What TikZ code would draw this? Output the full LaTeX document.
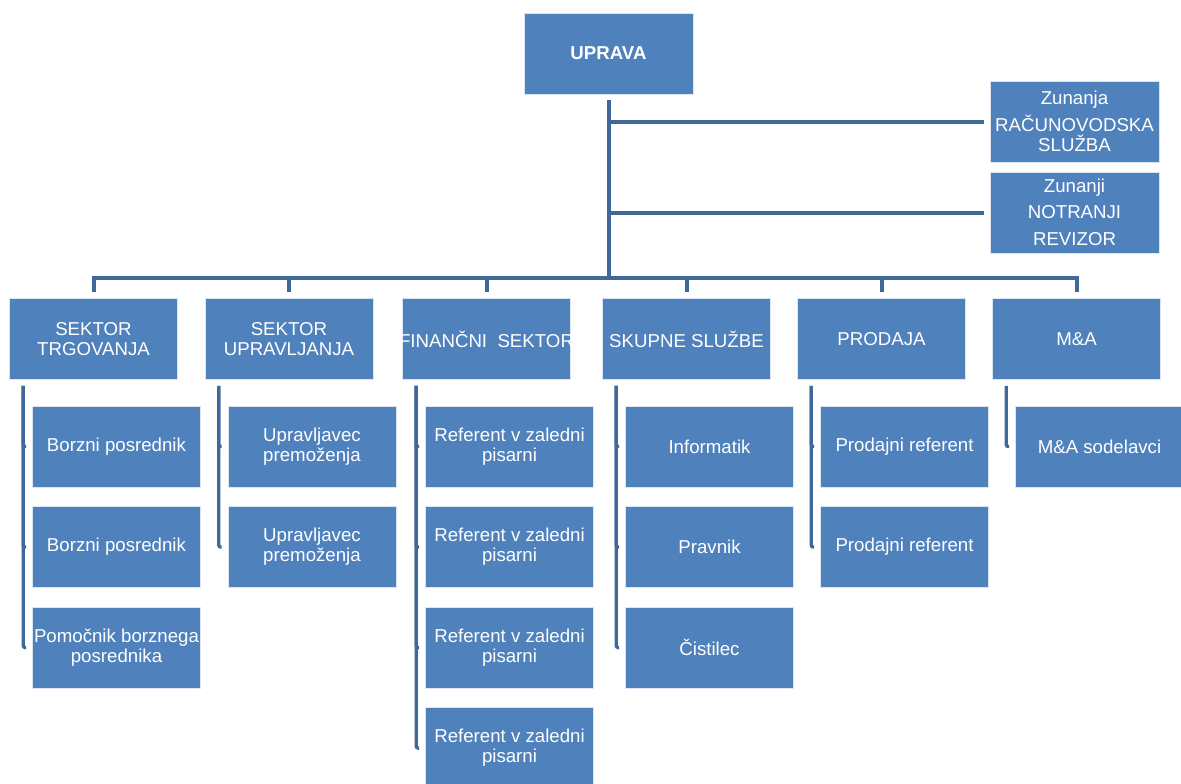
\documentclass[tikz,border=0pt]{standalone}
\usepackage{fontspec}
\setmainfont{Liberation Sans}
\usetikzlibrary{positioning}
\definecolor{modra}{RGB}{79,129,189}
\definecolor{temnomodra}{RGB}{64,104,152}
\def\razmak{4.5pt}

\begin{document}
\begin{tikzpicture}[x = 0.75pt, y = -0.75pt,
    skatla/.style = {fill = modra, draw = white!80!modra, line width = 0.4pt, text = white,
        minimum width = 126pt, minimum height = 60.75pt, inner sep = 0pt, align = center,
        font = \fontsize{14}{15}\selectfont},
    clan/.style = {skatla, below right = 19.5pt and 17.25pt of #1.south west},
    nizje/.style = {skatla, below = 14.25pt of #1},
    deblo/.style = {draw = temnomodra, line width = 3pt},
    veja/.style = {draw = temnomodra, line width = 2.5pt, rounded corners = 1.5pt}]
    \useasboundingbox (0,0) rectangle (1181,783);
    % Uprava in zunanje sluzbe
    \node[skatla, minimum width = 126.75pt, font = \fontsize{14}{15}\selectfont\bfseries] (uprava) at (608.5,53.5) {UPRAVA};
    \node[skatla, minimum width = 126.75pt] (racun) at (1074.5,121.5) {Zunanja\\[3.75pt]RAČUNOVODSKA\\SLUŽBA};
    \node[skatla, minimum width = 126.75pt] (revizor) at (1074.5,212.5) {Zunanji\\[4.5pt]NOTRANJI\\[5.25pt]REVIZOR};
    \coordinate (vodilo) at (608.5,278);
    % Sektorji
    \node[skatla] (trg) at (93.5,339) {SEKTOR\\TRGOVANJA};
    \node[skatla] (upr) at (289,339) {SEKTOR\\UPRAVLJANJA};
    \node[skatla] (fin) at (486.5,339) {\makebox[126pt]{FINANČNI~~SEKTOR}};
    \node[skatla] (skp) at (686.5,339) {SKUPNE SLUŽBE};
    \node[skatla] (prd) at (881.5,339) {PRODAJA};
    \node[skatla] (ma) at (1076.5,339) {M\&A};
    % Zaposleni
    \node[clan = trg] (trg1) {Borzni posrednik};
    \node[nizje = trg1] (trg2) {Borzni posrednik};
    \node[nizje = trg2] (trg3) {Pomočnik borznega\\posrednika};
    \node[clan = upr] (upr1) {Upravljavec\\premoženja};
    \node[nizje = upr1] (upr2) {Upravljavec\\premoženja};
    \node[clan = fin] (fin1) {Referent v zaledni\\pisarni};
    \node[nizje = fin1] (fin2) {Referent v zaledni\\pisarni};
    \node[nizje = fin2] (fin3) {Referent v zaledni\\pisarni};
    \node[nizje = fin3] (fin4) {Referent v zaledni\\pisarni};
    \node[clan = skp] (skp1) {Informatik};
    \node[nizje = skp1] (skp2) {Pravnik};
    \node[nizje = skp2] (skp3) {Čistilec};
    \node[clan = prd] (prd1) {Prodajni referent};
    \node[nizje = prd1] (prd2) {Prodajni referent};
    \node[clan = ma] (ma1) {M\&A sodelavci};
    % Povezave
    \draw[deblo] ([yshift=-\razmak]uprava.south) -- (vodilo);
    \draw[deblo] (uprava.south |- racun.west) -- ([xshift=-\razmak]racun.west);
    \draw[deblo] (uprava.south |- revizor.west) -- ([xshift=-\razmak]revizor.west);
    \foreach \s in {trg, upr, fin, skp, prd, ma}
        \draw[deblo] (vodilo) -| ([yshift=\razmak]\s.north);
    \foreach \s/\c in {trg/trg1, trg/trg2, trg/trg3, upr/upr1, upr/upr2,
                       fin/fin1, fin/fin2, fin/fin3, fin/fin4, skp/skp1, skp/skp2, skp/skp3,
                       prd/prd1, prd/prd2, ma/ma1}
        \draw[veja] ([xshift=10.5pt, yshift=-\razmak]\s.south west) |- ([xshift=-\razmak]\c.west);
\end{tikzpicture}
\end{document}
